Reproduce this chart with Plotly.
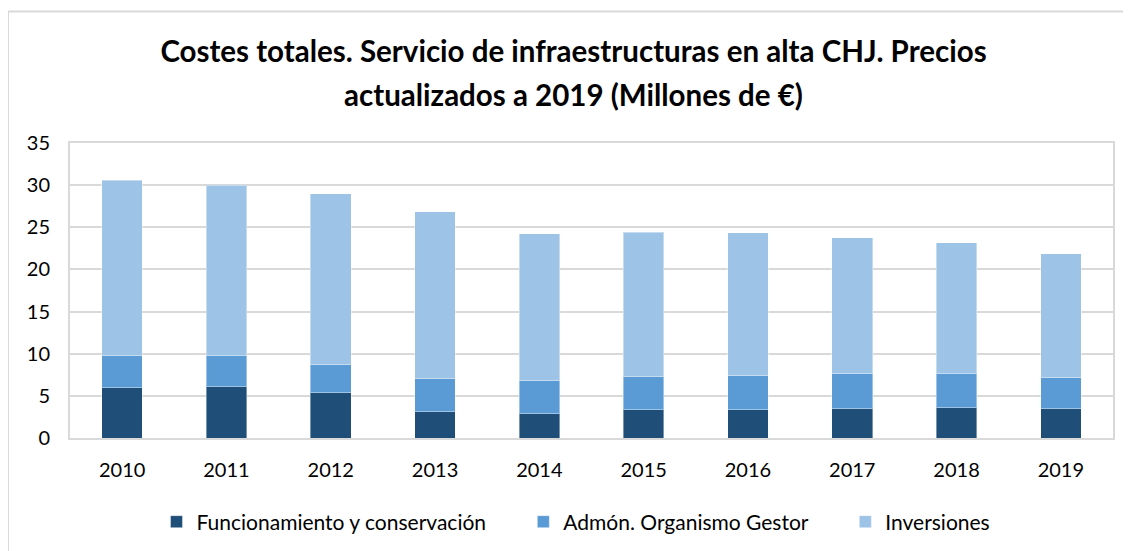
import plotly.graph_objects as go

years = ["2010", "2011", "2012", "2013", "2014", "2015", "2016", "2017", "2018", "2019"]
funcionamiento = [5.98, 6.06, 5.35, 3.13, 2.85, 3.33, 3.37, 3.49, 3.61, 3.49]
admon = [3.77, 3.77, 3.37, 3.89, 4.01, 3.92, 4.00, 4.12, 4.08, 3.64]
inversiones = [20.85, 20.17, 20.25, 19.81, 17.40, 17.17, 17.01, 16.17, 15.46, 14.75]

names = ["Funcionamiento y conservación", "Admón. Organismo Gestor", "Inversiones"]
colors = ["#1F4E79", "#5B9BD5", "#9DC3E6"]
series = [funcionamiento, admon, inversiones]
title_line1 = "Costes totales. Servicio de infraestructuras en alta CHJ. Precios"
title_line2 = "actualizados a 2019 (Millones de €)"

FONT = "Lato"
PAD = "\u00a0" * 6

fig = go.Figure()
for i, (name, vals, col) in enumerate(zip(names, series, colors)):
    fig.add_trace(go.Bar(
        x=years, y=vals, name=name + (PAD if i < len(names) - 1 else ""),
        marker=dict(color=col, line=dict(color="rgba(255,255,255,0.4)", width=1)),
    ))

W, H = 1131, 551
L, R, T, B = 62, 26, 135, 121
pw = W - L - R
ph = H - T - B
base = H - B  # figure y of plot bottom

def px(fx):
    return (fx - L) / pw

def py(fy):
    return (base - fy) / ph

fig.update_layout(
    width=W, height=H,
    barmode="stack",
    bargap=0.61,
    paper_bgcolor="white",
    plot_bgcolor="white",
    margin=dict(l=L, r=R, t=T, b=B),
    font=dict(family=FONT, size=20, color="#000000"),
    title=dict(
        text="<b>" + title_line1 + "</b>",
        x=0.5, xanchor="center", xref="container",
        y=1 - 44 / H, yanchor="middle", yref="container",
        font=dict(family=FONT, size=29.5, color="#000000"),
    ),
    annotations=[
        dict(text="<b>" + title_line2 + "</b>", xref="paper", yref="paper",
             x=px(565.5), y=py(87), xanchor="center", yanchor="middle",
             showarrow=False, font=dict(family=FONT, size=29.5, color="#000000")),
    ],
    legend=dict(
        orientation="h", x=568 / W, xanchor="center", xref="container",
        y=(H - 514) / H, yanchor="middle", yref="container",
        font=dict(family=FONT, size=21, color="#000000"),
        traceorder="normal",
        itemwidth=30,
    ),
    xaxis=dict(
        showgrid=False, showline=True, linecolor="#d9d9d9", linewidth=2,
        mirror=True, ticks="", tickfont=dict(size=20),
        ticklabelstandoff=13,
    ),
    yaxis=dict(
        range=[0, 35], dtick=5, showgrid=True, gridcolor="#d9d9d9", gridwidth=2,
        showline=True, linecolor="#d9d9d9", linewidth=2, mirror=True,
        ticks="", tickfont=dict(size=20), zeroline=False,
        ticklabelstandoff=14,
    ),
    shapes=[
        dict(type="rect", xref="paper", yref="paper",
             x0=px(0), x1=px(W + 20),
             y0=py(H + 20), y1=py(3.5),
             line=dict(color="#d9d9d9", width=2), fillcolor="rgba(0,0,0,0)",
             layer="below"),
    ],
)

fig.write_html("out.html")
